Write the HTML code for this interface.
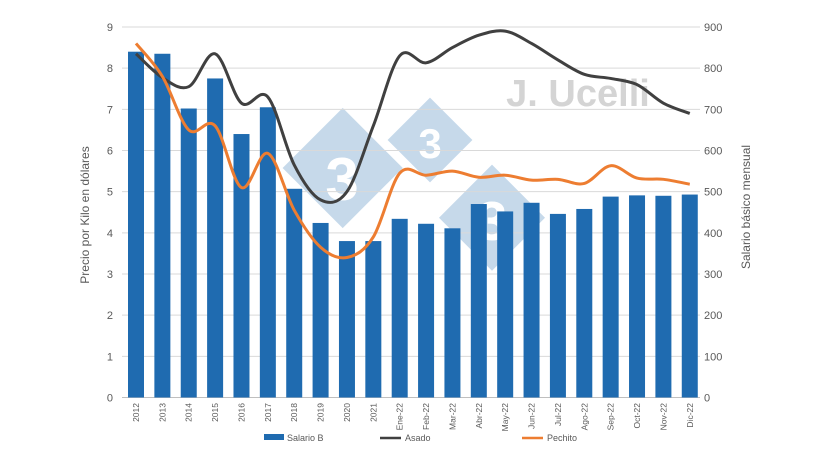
<!DOCTYPE html>
<html><head><meta charset="utf-8">
<style>
body{margin:0;background:#fff;}
svg{display:block;font-family:"Liberation Sans",sans-serif;}
</style></head>
<body>
<svg id="chart" width="820" height="461" viewBox="0 0 820 461">
  <g id="watermark" opacity="0.25">
    <rect x="300" y="125" width="85" height="85" fill="#1f6bb0" transform="rotate(45 342 168)"/>
    <text x="342" y="200" font-size="60" font-weight="bold" fill="#fff" text-anchor="middle">3</text>
    <rect x="400" y="110" width="60" height="60" fill="#1f6bb0" transform="rotate(45 430 140)"/>
    <text x="430" y="158" font-size="42" font-weight="bold" fill="#fff" text-anchor="middle">3</text>
    <rect x="455" y="180" width="75" height="75" fill="#1f6bb0" transform="rotate(45 492 217)"/>
    <text x="492" y="240" font-size="55" font-weight="bold" fill="#fff" text-anchor="middle">3</text>
  </g>
  <text x="578" y="106" font-size="38" font-weight="bold" fill="#d4d4d4" text-anchor="middle">J. Ucelli</text>
  <g id="grid"></g>
  <g id="bars"></g>
  <g id="lines"></g>
  <g id="axes"></g>
  <text transform="translate(89 215) rotate(-90)" font-size="12" fill="#595959" text-anchor="middle">Precio por Kilo en dólares</text>
  <text transform="translate(750 207) rotate(-90)" font-size="12" fill="#595959" text-anchor="middle">Salario básico mensual</text>
  <g>
    <g>
      <rect x="264" y="434" width="20" height="6" fill="#1f6bb0"/>
      <text x="287" y="441" font-size="9" fill="#595959">Salario B</text>
    </g>
    <g>
      <line x1="380" y1="438" x2="401" y2="438" stroke="#404040" stroke-width="2.5"/>
      <text x="405" y="441" font-size="9" fill="#595959">Asado</text>
    </g>
    <g>
      <line x1="522" y1="438" x2="543" y2="438" stroke="#ed7d31" stroke-width="2.5"/>
      <text x="547" y="441" font-size="9" fill="#595959">Pechito</text>
    </g>
  </g>
</svg>
<script>
const categories=["2012","2013","2014","2015","2016","2017","2018","2019","2020","2021","Ene-22","Feb-22","Mar-22","Abr-22","May-22","Jun-22","Jul-22","Ago-22","Sep-22","Oct-22","Nov-22","Dic-22"];
const salario=[840,835,702,775,640,705,507,424,380,380,434,422,411,470,452,473,446,458,488,491,490,493];
const asado=[8.35,7.77,7.55,8.35,7.15,7.3,5.65,4.8,5.0,6.6,8.3,8.13,8.5,8.8,8.9,8.6,8.2,7.85,7.75,7.6,7.15,6.9];
const pechito=[8.6,7.8,6.5,6.6,5.1,5.93,4.55,3.65,3.4,3.9,5.45,5.4,5.5,5.35,5.4,5.28,5.3,5.2,5.63,5.33,5.3,5.18];
const leftTicks=[0,1,2,3,4,5,6,7,8,9];
const rightTicks=[0,100,200,300,400,500,600,700,800,900];
const NS="http://www.w3.org/2000/svg";
const y0=397.5,yTop=27,x0=136,dx=26.37,bw=16;
function yL(v){return y0-(y0-yTop)*v/9;}
function yR(v){return y0-(y0-yTop)*v/900;}
function xC(i){return x0+dx*i;}
function mk(t,a,p){const e=document.createElementNS(NS,t);for(const k in a)e.setAttribute(k,a[k]);p.appendChild(e);return e;}
const grid=document.getElementById('grid'),axes=document.getElementById('axes');
leftTicks.forEach((t,i)=>{
  const g=mk('line',{x1:122,x2:700,y1:yL(t),y2:yL(t),stroke:i==0?'#bfbfbf':'#d9d9d9','stroke-width':1},grid);
  
  
  const l=mk('text',{x:113,y:yL(t)+4,'font-size':11,fill:'#595959','text-anchor':'end'},axes);
  l.textContent=t;
  
  
});
rightTicks.forEach(t=>{
  const l=mk('text',{x:704,y:yR(t)+4,'font-size':11,fill:'#595959'},axes);
  l.textContent=t;
  
  
});
const bars=document.getElementById('bars');
salario.forEach((v,i)=>{
  const r=mk('rect',{x:xC(i)-bw/2,y:yR(v),width:bw,height:y0-yR(v),fill:'#1f6bb0'},bars);
  
  
});
categories.forEach((c,i)=>{
  const t=mk('text',{transform:`translate(${xC(i)+3} 403) rotate(-90)`,'font-size':8.5,fill:'#595959','text-anchor':'end'},axes);
  t.textContent=c;
  
  
});
function smooth(vals){
  const p=vals.map((v,i)=>[xC(i),yL(v)]);
  let d=`M${p[0][0]},${p[0][1]}`;
  for(let i=0;i<p.length-1;i++){
    const a=p[i-1]||p[i],b=p[i],c=p[i+1],e=p[i+2]||c,k=6;
    d+=` C${b[0]+(c[0]-a[0])/k},${b[1]+(c[1]-a[1])/k} ${c[0]-(e[0]-b[0])/k},${c[1]-(e[1]-b[1])/k} ${c[0]},${c[1]}`;
  }
  return d;
}
const lines=document.getElementById('lines');
const la=mk('path',{d:smooth(asado),fill:'none',stroke:'#404040','stroke-width':3},lines);


const lp=mk('path',{d:smooth(pechito),fill:'none',stroke:'#ed7d31','stroke-width':3},lines);


</script>
</body></html>
